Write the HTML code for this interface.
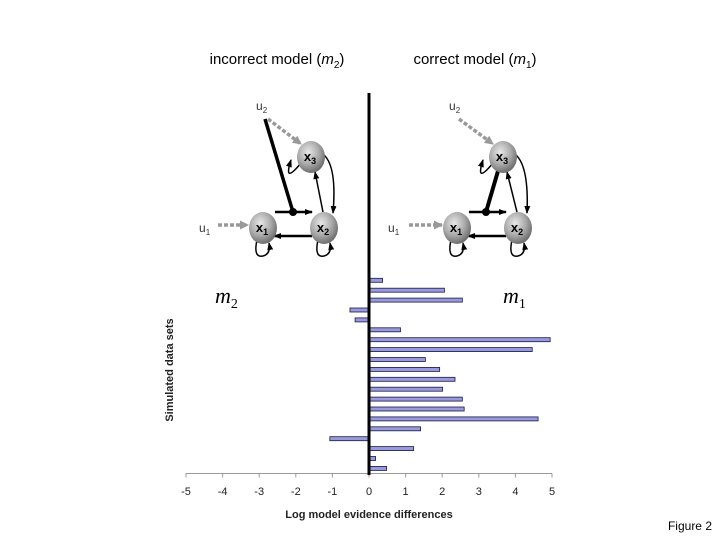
<!DOCTYPE html>
<html><head><meta charset="utf-8"><style>
body{margin:0;background:#fff}
svg text{font-family:"Liberation Sans",sans-serif}
</style></head><body>
<svg id="fig" width="720" height="540" viewBox="0 0 720 540">
<defs>
<radialGradient id="ng" cx="40%" cy="35%" r="65%">
<stop offset="0" stop-color="#e8e8e8"/><stop offset="0.6" stop-color="#a8a8a8"/><stop offset="1" stop-color="#6e6e6e"/>
</radialGradient>
<marker id="ah" markerUnits="userSpaceOnUse" markerWidth="8" markerHeight="8" refX="7" refY="4" orient="auto"><path d="M0,1 L8,4 L0,7 z" fill="#000"/></marker>
<marker id="ahg" markerUnits="userSpaceOnUse" markerWidth="9" markerHeight="9" refX="8" refY="4.5" orient="auto"><path d="M0,0 L9,4.5 L0,9 z" fill="#999"/></marker>
</defs>
<text x="277" y="64" font-size="15" text-anchor="middle">incorrect model (<tspan font-style="italic">m</tspan><tspan font-size="10" dy="4">2</tspan><tspan dy="-4">)</tspan></text>
<text x="475" y="64" font-size="15" text-anchor="middle">correct model (<tspan font-style="italic">m</tspan><tspan font-size="10" dy="4">1</tspan><tspan dy="-4">)</tspan></text>

<g id="diagL"></g>
<g id="diagR"></g>

<text x="215" y="303" font-size="22" font-style="italic" style="font-family:'Liberation Serif',serif">m<tspan font-size="14" dy="5" font-style="normal">2</tspan></text>
<text x="503" y="303" font-size="22" font-style="italic" style="font-family:'Liberation Serif',serif">m<tspan font-size="14" dy="5" font-style="normal">1</tspan></text>

<g id="chart"></g>
<text x="173" y="370" font-size="11" font-weight="bold" text-anchor="middle" transform="rotate(-90 173 370)" fill="#222">Simulated data sets</text>
<text x="369" y="518" font-size="11" font-weight="bold" text-anchor="middle" fill="#222">Log model evidence differences</text>
<text x="712" y="530" font-size="12" text-anchor="end">Figure 2</text>
</svg>
<script>
const values=[0.37,2.06,2.55,-0.52,-0.38,0.86,4.95,4.46,1.54,1.93,2.35,2.01,2.55,2.6,4.62,1.41,-1.07,1.22,0.18,0.48];
const ticks=[-5,-4,-3,-2,-1,0,1,2,3,4,5];
const NS="http://www.w3.org/2000/svg";
function el(t,a,p){const e=document.createElementNS(NS,t);for(const k in a)e.setAttribute(k,a[k]);p.appendChild(e);return e;}
const x=v=>369+v*36.6;
const y=i=>280.3+i*9.9;
const ch=document.getElementById('chart');
const ax=el('line',{x1:186,x2:552,y1:473.5,y2:473.5,stroke:'#999','stroke-width':1},ch);


ticks.forEach(t=>{
 const l=el('line',{x1:x(t),x2:x(t),y1:473.5,y2:477.5,stroke:'#999'},ch);
 
 
 const tx=el('text',{x:x(t),y:495,'font-size':11,'text-anchor':'middle',fill:'#222'},ch);
 tx.textContent=t;
 
 
});
values.forEach((v,i)=>{
 const x0=Math.min(x(0),x(v)),w=Math.abs(x(v)-x(0));
 const r=el('rect',{x:x0,y:y(i)-2,width:w,height:4,fill:'#9999dd',stroke:'#1a1a40','stroke-width':0.8},ch);
 
 
});
const zl=el('line',{x1:369,x2:369,y1:93,y2:475,stroke:'#000','stroke-width':3},ch);



function diagram(g,dx,correct){
 const X1=[263+dx,228],X2=[324+dx,228],X3=[311+dx+(correct?-2:0),157];
 el('line',{x1:X1[0]+12,y1:212,x2:X2[0]-12,y2:212,stroke:'#000','stroke-width':2.5,'marker-end':'url(#ah)'},g);
 el('line',{x1:X2[0]-12,y1:236,x2:X1[0]+11,y2:236,stroke:'#000','stroke-width':2.5,'marker-end':'url(#ah)'},g);
 el('line',{x1:X2[0]-1,y1:212,x2:X3[0]+4,y2:172,stroke:'#000','stroke-width':1.5,'marker-end':'url(#ah)'},g);
 el('path',{d:`M${X3[0]+13},${X3[1]-2} Q${X3[0]+26},${X3[1]+10} ${X2[0]+9},${X2[1]-15}`,fill:'none',stroke:'#000','stroke-width':1.5,'marker-end':'url(#ah)'},g);
 const mx=dx+(correct?-32:-31)+324;
 el('circle',{cx:mx,cy:212,r:4,fill:'#000'},g);
 if(correct) el('line',{x1:mx,y1:212,x2:X3[0]-5,y2:X3[1]+14,stroke:'#000','stroke-width':4},g);
 else el('line',{x1:mx,y1:212,x2:265+dx,y2:119,stroke:'#000','stroke-width':3.5},g);
 [[X1,1],[X2,1],[X3,0]].forEach(([n,b])=>{
  if(b) el('path',{d:`M${n[0]-6},${n[1]+12} Q${n[0]-10},${n[1]+30} ${n[0]},${n[1]+28} Q${n[0]+8},${n[1]+26} ${n[0]+6},${n[1]+15}`,fill:'none',stroke:'#000','stroke-width':1.5,'marker-end':'url(#ah)'},g);
  else el('path',{d:`M${n[0]-10},${n[1]+6} Q${n[0]-28},${n[1]+28} ${n[0]-20},${n[1]+3}`,fill:'none',stroke:'#000','stroke-width':1.5,'marker-end':'url(#ah)'},g);
 });
 el('line',{x1:218+dx-(correct?3:0),y1:225,x2:X1[0]-15,y2:225,stroke:'#999','stroke-width':3.5,'stroke-dasharray':'4,2','marker-end':'url(#ahg)'},g);
 el('line',{x1:268+dx-(correct?3:0),y1:119,x2:X3[0]-10,y2:X3[1]-13,stroke:'#999','stroke-width':3.5,'stroke-dasharray':'4,2','marker-end':'url(#ahg)'},g);
 [[X1,'1'],[X2,'2'],[X3,'3']].forEach(([n,s])=>{
  el('ellipse',{cx:n[0],cy:n[1],rx:14,ry:16,fill:'url(#ng)'},g);
  const t=el('text',{x:n[0]-1,y:n[1]+4,'font-size':13,'font-weight':'bold','text-anchor':'middle'},g);
  t.innerHTML='x<tspan font-size="9" dy="3">'+s+'</tspan>';
 });
 const u1=el('text',{x:199+dx-(correct?5:0),y:232,'font-size':12,fill:'#333'},g);
 u1.innerHTML='u<tspan font-size="8" dy="3">1</tspan>';
 const u2=el('text',{x:256+dx-(correct?1:0),y:110,'font-size':12,fill:'#333'},g);
 u2.innerHTML='u<tspan font-size="8" dy="3">2</tspan>';
}
diagram(document.getElementById('diagL'),0,false);
diagram(document.getElementById('diagR'),194,true);
</script>
</body></html>
